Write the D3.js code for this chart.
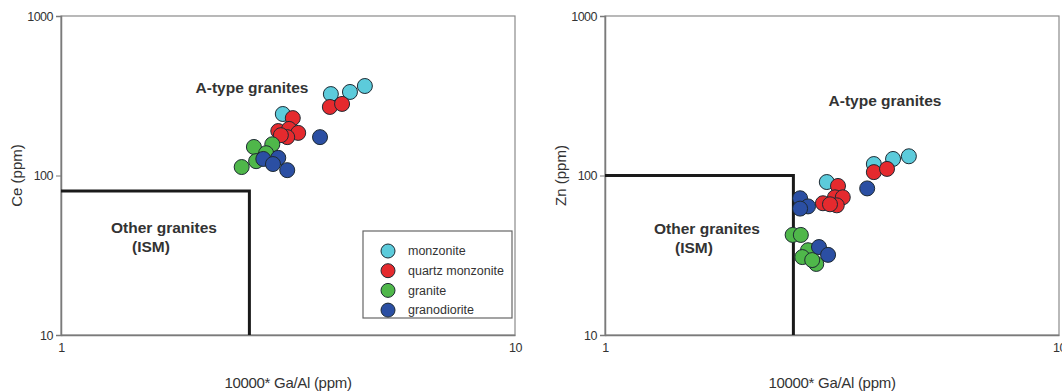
<!DOCTYPE html>
<html>
<head>
<meta charset="utf-8">
<script src="https://cdn.jsdelivr.net/npm/d3@7"></script>
<style>
  body { margin: 0; background: #fff; }
  svg { font-family: "Liberation Sans", Arial, sans-serif; }
</style>
</head>
<body>
<div id="chart"></div>
<script>
// rock types, legend order
var groups = ["monzonite", "quartz monzonite", "granite", "granodiorite"];
var colors = ["#5ccbdb", "#e52a2e", "#4fb74a", "#2b4fa3"];

// left chart: 10000*Ga/Al vs Ce
var ceGaAl = [
  [3.08, 3.93, 4.33, 4.67],
  [3.91, 4.16, 3.24, 3.01, 3.18, 3.33, 3.15, 3.05],
  [2.50, 2.66, 2.69, 2.92, 2.83],
  [3.72, 2.79, 3.01, 2.93, 3.15]
];
var ceValues = [
  [243, 324, 334, 364],
  [269, 281, 229, 190, 196, 185, 174, 179],
  [113, 151, 123, 157, 138],
  [174, 127, 129, 118, 108]
];

// right chart: 10000*Ga/Al vs Zn
var znGaAl = [
  [3.08, 3.91, 4.31, 4.67],
  [3.91, 4.18, 3.26, 3.02, 3.21, 3.34, 3.24, 3.13],
  [2.59, 2.70, 2.80, 2.72, 2.92, 2.86],
  [3.78, 2.69, 2.80, 2.69, 2.96, 3.10]
];
var znValues = [
  [91, 118, 127, 132],
  [105, 110, 86, 67, 73, 73, 65, 66],
  [42.4, 42.4, 34, 30.8, 27.9, 29.5],
  [83, 72, 64, 62, 35.6, 31.8]
];

// discrimination boundaries
var ceBoundary = { gaAl: 2.6, value: 80 };
var znBoundary = { gaAl: 2.6, value: 100 };

var xTicks = [1, 10];
var yTicks = [10, 100, 1000];

var width = 1062, height = 391;
var svg = d3.select("#chart").append("svg")
    .attr("width", width)
    .attr("height", height);

var plotTop = 16, plotBottom = 335, plotW = 454;

function drawPanel(left, xs, ys, boundary, yTitle, aLabel, otherLabel, legend) {
  var x = d3.scaleLog().domain([1, 10]).range([left, left + plotW]);
  var y = d3.scaleLog().domain([10, 1000]).range([plotBottom, plotTop]);

  // frame (top / right)
  svg.append("rect")
      .attr("x", left).attr("y", plotTop)
      .attr("width", plotW).attr("height", plotBottom - plotTop)
      .attr("fill", "none").attr("stroke", "#8a8a8a").attr("stroke-width", 1.2);

  var yAxis = svg.append("g")
      .attr("transform", "translate(" + left + ",0)")
      .call(d3.axisLeft(y).tickValues(yTicks).tickFormat(d3.format("d")).tickSize(5).tickPadding(3));
  var xAxis = svg.append("g")
      .attr("transform", "translate(0," + plotBottom + ")")
      .call(d3.axisBottom(x).tickValues(xTicks).tickFormat(d3.format("d")).tickSize(0).tickPadding(8));
  [xAxis, yAxis].forEach(function (a) {
    a.select(".domain").attr("stroke", "#7a7a7a").attr("stroke-width", 1.5);
    a.selectAll(".tick line").attr("stroke", "#7a7a7a");
    a.selectAll(".tick text").attr("fill", "#333").style("font-size", "12.5px")
        .style("letter-spacing", "-0.5px");
  });

  // boundary lines
  svg.append("path")
      .attr("d", "M" + x(1) + "," + y(boundary.value) +
                 "H" + x(boundary.gaAl) + "V" + y(10))
      .attr("fill", "none").attr("stroke", "#1a1a1a").attr("stroke-width", 3);

  // axis titles
  svg.append("text")
      .attr("transform", "translate(" + (left - 44) + "," + y(100) + ") rotate(-90)")
      .attr("text-anchor", "middle").attr("dy", "0.35em")
      .attr("fill", "#333").style("font-size", "15px")
      .text(yTitle);
  svg.append("text")
      .attr("x", left + 227).attr("y", 388)
      .attr("text-anchor", "middle")
      .attr("fill", "#333").style("font-size", "15px")
      .style("letter-spacing", "-0.3px")
      .text("10000* Ga/Al (ppm)");

  // field labels
  svg.append("text")
      .attr("x", aLabel[0]).attr("y", aLabel[1])
      .attr("text-anchor", "middle").attr("font-weight", "bold")
      .attr("fill", "#333").style("font-size", "15.5px")
      .text("A-type granites");
  svg.append("text")
      .attr("x", otherLabel[0]).attr("y", otherLabel[1])
      .attr("text-anchor", "middle").attr("font-weight", "bold")
      .attr("fill", "#333").style("font-size", "15.5px")
      .text("Other granites");
  svg.append("text")
      .attr("x", otherLabel[0] - 13).attr("y", otherLabel[1] + 19)
      .attr("text-anchor", "middle").attr("font-weight", "bold")
      .attr("fill", "#333").style("font-size", "15.5px")
      .text("(ISM)");

  // points, legend order
  groups.forEach(function (g, gi) {
    var pts = xs[gi].map(function (v, i) { return [v, ys[gi][i]]; });
    svg.append("g").selectAll("circle")
        .data(pts)
        .enter().append("circle")
        .attr("cx", function (d) { return x(d[0]); })
        .attr("cy", function (d) { return y(d[1]); })
        .attr("r", 7.5)
        .attr("fill", colors[gi])
        .attr("stroke", "#1e2a33")
        .attr("stroke-width", 1);
  });

  if (legend) {
    var lg = svg.append("g").attr("transform", "translate(" + (left + plotW - 152) + ",231)");
    lg.append("rect")
        .attr("width", 149).attr("height", 87)
        .attr("fill", "#fff").attr("stroke", "#666").attr("stroke-width", 1.2);
    groups.forEach(function (g, gi) {
      lg.append("circle")
          .attr("cx", 25).attr("cy", 20 + gi * 19.7)
          .attr("r", 7)
          .attr("fill", colors[gi]).attr("stroke", "#1e2a33");
      lg.append("text")
          .attr("x", 45).attr("y", 20 + gi * 19.7)
          .attr("dy", "0.35em")
          .attr("fill", "#333").style("font-size", "12.5px")
          .text(g);
    });
  }
}

drawPanel(61, ceGaAl, ceValues, ceBoundary, "Ce (ppm)", [252, 93], [164, 233], true);
drawPanel(605, znGaAl, znValues, znBoundary, "Zn (ppm)", [885, 106], [707, 234], false);
</script>
</body>
</html>
